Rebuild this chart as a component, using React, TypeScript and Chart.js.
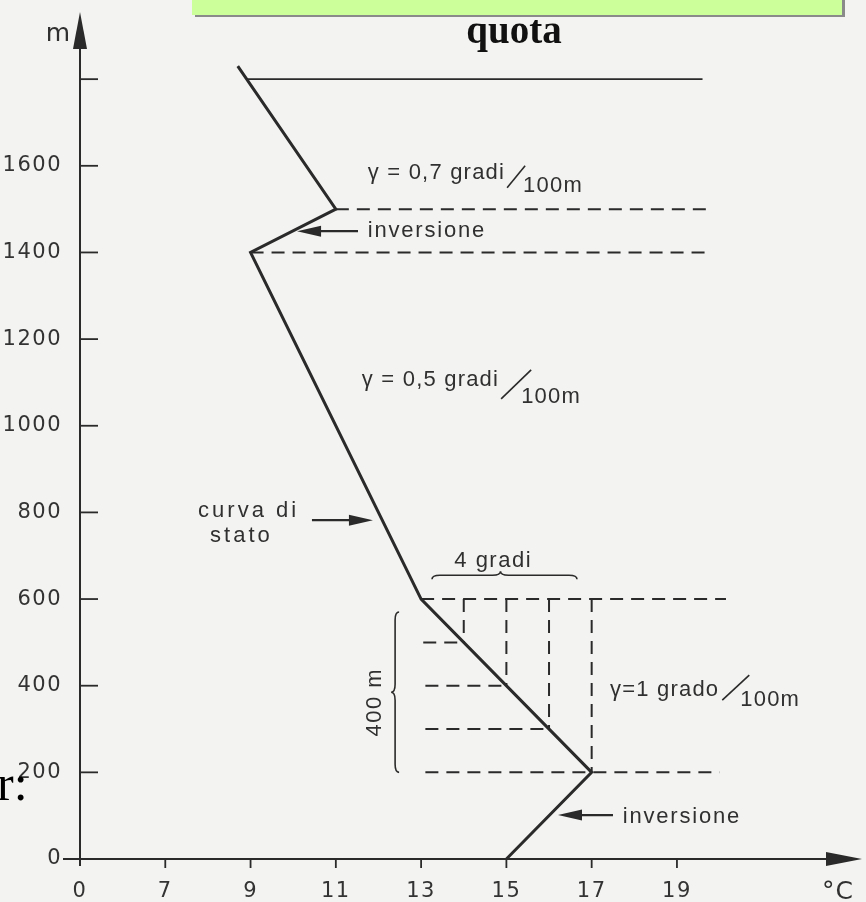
import React, { useEffect, useRef } from 'react';
import { Chart, registerables } from 'chart.js';

Chart.register(...registerables);

// ---- data (temperature °C, height m) ----
const curveTemps = [15, 17, 13, 9, 11, 8.7];
const curveHeights = [0, 200, 600, 1400, 1500, 1830];

const topLevelHeight = 1800;
const topLevelTemps = [8.9, 19.6];

const levelHeights = [1500, 1400, 600, 500, 400, 300, 200];
const levelFromTemps = [11, 9, 13, 13.05, 13.1, 13.1, 13.1];
const levelToTemps = [19.85, 19.75, 20.15, 14, 15, 16, 20.0];

const dropTemps = [14, 15, 16, 17];
const dropTopHeight = 600;
const dropBottomHeights = [500, 400, 300, 200];

const xTickValues = [5, 7, 9, 11, 13, 15, 17, 19];
const xTickLabels = ['0', '7', '9', '11', '13', '15', '17', '19'];
const yTickValues = [0, 200, 400, 600, 800, 1000, 1200, 1400, 1600, 1800];
const yTickLabels = ['0', '200', '400', '600', '800', '1000', '1200', '1400', '1600', ''];

const X_MIN = 5;
const X_MAX = 23.34;
const Y_MIN = 0;
const Y_MAX = 1955;

const INK = '#2a2a2a';
const TEXT = '#303030';
const ANN_FONT = '22px "Liberation Sans", Arial, sans-serif';

function arrowH(ctx: CanvasRenderingContext2D, tail: number, tip: number, y: number) {
  const dir = tip > tail ? 1 : -1;
  const head = 24;
  ctx.beginPath();
  ctx.moveTo(tail, y);
  ctx.lineTo(tip - dir * head * 0.8, y);
  ctx.lineWidth = 2.2;
  ctx.strokeStyle = INK;
  ctx.stroke();
  ctx.beginPath();
  ctx.moveTo(tip, y);
  ctx.lineTo(tip - dir * head, y - 5.5);
  ctx.lineTo(tip - dir * head, y + 5.5);
  ctx.closePath();
  ctx.fillStyle = INK;
  ctx.fill();
}

function text(ctx: CanvasRenderingContext2D, s: string, x: number, y: number, font: string, align: CanvasTextAlign = 'left', spacing = '1.2px', baseline: CanvasTextBaseline = 'alphabetic') {
  ctx.font = font;
  (ctx as any).letterSpacing = spacing;
  ctx.textAlign = align;
  ctx.textBaseline = baseline;
  ctx.fillStyle = TEXT;
  ctx.fillText(s, x, y);
}

function fraction(ctx: CanvasRenderingContext2D, main: string, x: number, y: number,
  s1: [number, number], s2: [number, number], den: [number, number]) {
  text(ctx, main, x, y, ANN_FONT, 'left', '1.2px');
  const w = ctx.measureText(main).width;
  const end = x + w;
  ctx.beginPath();
  ctx.moveTo(end + s1[0], y + s1[1]);
  ctx.lineTo(end + s2[0], y + s2[1]);
  ctx.lineWidth = 1.6;
  ctx.strokeStyle = INK;
  ctx.stroke();
  text(ctx, '100m', end + den[0], y + den[1], ANN_FONT, 'left', '1.2px');
}

function hBrace(ctx: CanvasRenderingContext2D, x1: number, x2: number, y: number, d: number) {
  const m = (x1 + x2) / 2 - 4;
  ctx.beginPath();
  ctx.moveTo(x1, y + d);
  ctx.quadraticCurveTo(x1, y, x1 + d * 2, y);
  ctx.lineTo(m - d * 2, y);
  ctx.quadraticCurveTo(m, y, m, y - d);
  ctx.quadraticCurveTo(m, y, m + d * 2, y);
  ctx.lineTo(x2 - d * 2, y);
  ctx.quadraticCurveTo(x2, y, x2, y + d);
  ctx.lineWidth = 1.6;
  ctx.strokeStyle = INK;
  ctx.stroke();
}

function vBrace(ctx: CanvasRenderingContext2D, x: number, y1: number, y2: number, d: number) {
  const m = (y1 + y2) / 2;
  ctx.beginPath();
  ctx.moveTo(x + d, y1);
  ctx.quadraticCurveTo(x, y1, x, y1 + d * 2);
  ctx.lineTo(x, m - d * 2);
  ctx.quadraticCurveTo(x, m, x - d, m);
  ctx.quadraticCurveTo(x, m, x, m + d * 2);
  ctx.lineTo(x, y2 - d * 2);
  ctx.quadraticCurveTo(x, y2, x + d, y2);
  ctx.lineWidth = 1.6;
  ctx.strokeStyle = INK;
  ctx.stroke();
}

const figurePlugin = {
  id: 'figure',
  beforeDraw(chart: any) {
    const { ctx, width, height } = chart;
    ctx.save();
    ctx.fillStyle = '#f3f3f1';
    ctx.fillRect(0, 0, width, height);
    ctx.restore();
    ctx.letterSpacing = '1.5px';
  },
  beforeDatasetsDraw(chart: any) {
    const ctx: CanvasRenderingContext2D = chart.ctx;
    const xs = chart.scales.x, ys = chart.scales.y;
    const X = (v: number) => xs.getPixelForValue(v);
    const Y = (v: number) => ys.getPixelForValue(v);
    const left = X(X_MIN), bottom = Y(0);
    const topTip = Y(Y_MAX), rightTip = X(X_MAX);
    ctx.save();
    ctx.strokeStyle = INK;
    ctx.fillStyle = INK;
    ctx.lineWidth = 2;
    // y axis
    ctx.beginPath();
    ctx.moveTo(left, bottom + 7);
    ctx.lineTo(left, topTip + 30);
    ctx.stroke();
    ctx.beginPath();
    ctx.moveTo(left, topTip);
    ctx.lineTo(left - 7, topTip + 37);
    ctx.lineTo(left + 7, topTip + 37);
    ctx.closePath();
    ctx.fill();
    // x axis
    ctx.beginPath();
    ctx.moveTo(left - 17, bottom);
    ctx.lineTo(rightTip - 30, bottom);
    ctx.stroke();
    ctx.beginPath();
    ctx.moveTo(rightTip, bottom);
    ctx.lineTo(rightTip - 36, bottom - 7);
    ctx.lineTo(rightTip - 36, bottom + 7);
    ctx.closePath();
    ctx.fill();
    // tick marks
    ctx.lineWidth = 1.8;
    yTickValues.forEach((v) => {
      if (v === 0) return;
      ctx.beginPath();
      ctx.moveTo(left, Y(v));
      ctx.lineTo(left + 18, Y(v));
      ctx.stroke();
    });
    xTickValues.forEach((v) => {
      if (v === X_MIN) return;
      ctx.beginPath();
      ctx.moveTo(X(v), bottom);
      ctx.lineTo(X(v), bottom + 9);
      ctx.stroke();
    });
    ctx.restore();
  },
  afterDraw(chart: any) {
    const ctx: CanvasRenderingContext2D = chart.ctx;
    const xs = chart.scales.x, ys = chart.scales.y;
    const X = (v: number) => xs.getPixelForValue(v);
    const Y = (v: number) => ys.getPixelForValue(v);
    ctx.save();
    (ctx as any).letterSpacing = '0px';

    // axis unit labels
    text(ctx, 'm', X(X_MIN) - 22, Y(Y_MAX) + 29, '25px "DejaVu Sans", sans-serif', 'center', '0px');
    text(ctx, '°C', X(X_MAX) - 24, 899, '25px "DejaVu Sans", sans-serif', 'center', '1px');

    // lapse-rate annotations
    fraction(ctx, 'γ = 0,7 gradi', X(11.75), Y(1570), [2, 9], [20, -13], [18, 13]);
    fraction(ctx, 'γ = 0,5 gradi', X(11.61), Y(1092), [2, 13], [32, -16], [22, 17]);
    fraction(ctx, 'γ=1 grado', X(17.43), Y(376), [3, 4], [30, -21], [21, 10]);

    // inversions
    arrowH(ctx, X(11.52), X(10.09), Y(1449));
    text(ctx, 'inversione', X(11.75), Y(1435), ANN_FONT, 'left', '1.8px');
    arrowH(ctx, X(17.5), X(16.21), Y(101.5));
    text(ctx, 'inversione', X(17.73), Y(83), ANN_FONT, 'left', '1.8px');

    // curva di stato
    text(ctx, 'curva di', X(7.77), Y(789), ANN_FONT, 'left', '3px');
    text(ctx, 'stato', X(8.05), Y(731.5), ANN_FONT, 'left', '3px');
    arrowH(ctx, X(10.44), X(11.87), Y(782));

    // 4 gradi brace
    text(ctx, '4 gradi', X(14.69), Y(674), ANN_FONT, 'center', '1.5px');
    hBrace(ctx, X(13.255), X(16.656), Y(655), 4);

    // 400 m brace
    ctx.save();
    ctx.translate(X(11.92), Y(362));
    ctx.rotate(-Math.PI / 2);
    text(ctx, '400 m', 0, 0, ANN_FONT, 'center', '1.5px', 'middle');
    ctx.restore();
    vBrace(ctx, X(12.39), Y(570), Y(200), 4);

    // slide overlay remnants
    ctx.fillStyle = '#8a8a8a';
    ctx.fillRect(195, -10, 650, 27);
    ctx.fillStyle = '#ccff99';
    ctx.fillRect(192, -10, 650, 25);
    ctx.font = 'bold 39px "Liberation Serif", "Times New Roman", serif';
    (ctx as any).letterSpacing = '0px';
    ctx.textAlign = 'center';
    ctx.textBaseline = 'alphabetic';
    ctx.fillStyle = '#111111';
    ctx.fillText('quota', 514, 43);
    ctx.font = '50px "Liberation Serif", "Times New Roman", serif';
    ctx.textAlign = 'left';
    ctx.fillStyle = '#000000';
    ctx.fillText('r:', -3, 800);
    ctx.restore();
  },
};

export default function App() {
  const canvasRef = useRef<HTMLCanvasElement | null>(null);

  useEffect(() => {
    document.body.style.margin = '0';
    document.body.style.background = '#f3f3f1';
    const canvas = canvasRef.current;
    if (!canvas) return;

    const seg = (a: [number, number], b: [number, number]) => [{ x: a[0], y: a[1] }, { x: b[0], y: b[1] }];
    const base = { pointRadius: 0, showLine: true, clip: false as any, tension: 0, borderColor: INK, fill: false };

    const datasets: any[] = [];
    datasets.push({
      ...base,
      label: 'curva di stato',
      data: curveTemps.map((t, i) => ({ x: t, y: curveHeights[i] })),
      borderWidth: 3,
      borderJoinStyle: 'miter',
    });
    datasets.push({
      ...base,
      label: 'livello 1800',
      data: seg([topLevelTemps[0], topLevelHeight], [topLevelTemps[1], topLevelHeight]),
      borderWidth: 1.6,
    });
    levelHeights.forEach((h, i) => {
      datasets.push({
        ...base,
        label: 'livello ' + h,
        data: seg([levelFromTemps[i], h], [levelToTemps[i], h]),
        borderWidth: 2,
        borderDash: [13, 8],
      });
    });
    dropTemps.forEach((t, i) => {
      datasets.push({
        ...base,
        label: 'verticale ' + t,
        data: seg([t, dropTopHeight], [t, dropBottomHeights[i]]),
        borderWidth: 2,
        borderDash: [13, 8],
      });
    });

    const tickFont = { family: '"DejaVu Sans", sans-serif', size: 21 };

    const chart = new Chart(canvas, {
      type: 'scatter',
      data: { datasets },
      options: {
        responsive: false,
        animation: false,
        devicePixelRatio: 1,
        events: [],
        layout: { padding: { left: 0, right: 4, top: 12, bottom: 0 } },
        plugins: {
          legend: { display: false },
          title: { display: false },
          tooltip: { enabled: false },
        },
        scales: {
          x: {
            type: 'linear',
            min: X_MIN,
            max: X_MAX,
            bounds: 'data',
            grid: { display: false },
            border: { display: false },
            afterBuildTicks: (s: any) => { s.ticks = xTickValues.map((v) => ({ value: v })); },
            afterFit: (s: any) => { s.height = 43; s.paddingLeft = 0; s.paddingRight = 0; },
            ticks: {
              autoSkip: false,
              maxRotation: 0,
              padding: 12,
              color: '#333333',
              font: tickFont,
              callback: (_v: any, i: number) => xTickLabels[i],
            },
          },
          y: {
            type: 'linear',
            min: Y_MIN,
            max: Y_MAX,
            bounds: 'data',
            grid: { display: false },
            border: { display: false },
            afterBuildTicks: (s: any) => { s.ticks = yTickValues.map((v) => ({ value: v })); },
            afterFit: (s: any) => { s.width = 80; s.paddingTop = 0; s.paddingBottom = 0; },
            ticks: {
              autoSkip: false,
              padding: 10,
              color: '#333333',
              font: tickFont,
              callback: (_v: any, i: number) => yTickLabels[i],
            },
          },
        },
      },
      plugins: [figurePlugin as any],
    });

    return () => chart.destroy();
  }, []);

  return (
    <div style={{ position: 'fixed', left: 0, top: 0, width: 866, height: 902, overflow: 'hidden' }}>
      <canvas ref={canvasRef} width={866} height={902} style={{ display: 'block' }} />
    </div>
  );
}
